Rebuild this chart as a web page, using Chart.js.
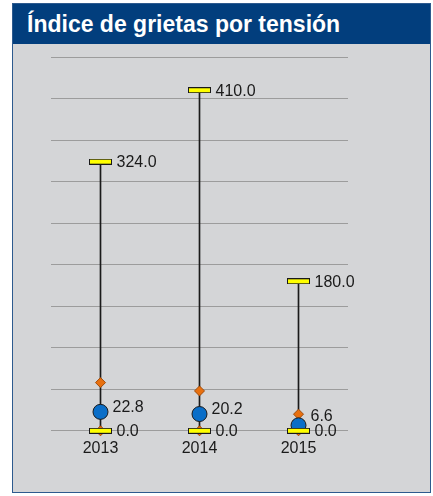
<!DOCTYPE html>
<html>
<head>
<meta charset="utf-8">
<script src="https://cdn.jsdelivr.net/npm/chart.js@4"></script>
<style>
  html, body { margin: 0; padding: 0; background: #ffffff; }
  #panel {
    position: absolute; left: 12px; top: 3px; width: 417px; height: 488px;
    border: 1px solid #2d5a8e; background: #d4d5d7;
  }
  #title {
    position: absolute; left: 0; top: 0; width: 417px; height: 40px;
    background: #023e7d; color: #ffffff;
    font: bold 23px "Liberation Sans", Arial, sans-serif;
    line-height: 40px; padding-left: 14px; box-sizing: border-box;
  }
  #wrap { position: absolute; left: 0; top: 0; width: 433px; height: 496px; }
</style>
</head>
<body>
<div id="panel"><div id="title">Índice de grietas por tensión</div></div>
<div id="wrap"><canvas id="chart" width="433" height="496"></canvas></div>
<script>
const years = ['2013', '2014', '2015'];
const maxValues = [324.0, 410.0, 180.0];
const minValues = [0.0, 0.0, 0.0];
const meanValues = [22.8, 20.2, 6.6];
const upperValues = [58, 48, 20];
const lowerValues = [0, 0, 0];

const labelFont = '16px "Liberation Sans", Arial, sans-serif';

function makeBarMarker() {
    const c = document.createElement('canvas');
    c.width = 23;
    c.height = 6;
    const ctx = c.getContext('2d');
    ctx.fillStyle = '#ffff00';
    ctx.fillRect(0.5, 0.5, 22, 5);
    ctx.strokeStyle = '#1a1a1a';
    ctx.lineWidth = 1;
    ctx.strokeRect(0.5, 0.5, 22, 5);
    return c;
}
const barMarker = makeBarMarker();

// value labels drawn beside the markers
const valueLabels = {
    id: 'valueLabels',
    afterDatasetsDraw(chart) {
        const ctx = chart.ctx;
        ctx.save();
        ctx.font = labelFont;
        ctx.fillStyle = '#1a1a1a';
        ctx.textBaseline = 'middle';
        ctx.textAlign = 'left';
        const maxMeta = chart.getDatasetMeta(0);
        const minMeta = chart.getDatasetMeta(1);
        const meanMeta = chart.getDatasetMeta(2);
        years.forEach((y, i) => {
            const pMax = maxMeta.data[i];
            ctx.fillText(maxValues[i].toFixed(1), pMax.x + 16, pMax.y + 1);
            const pMin = minMeta.data[i];
            ctx.fillText(minValues[i].toFixed(1), pMin.x + 16, pMin.y + 1);
            const pMean = meanMeta.data[i];
            let ly = pMean.y - 4;
            if (pMin.y - ly < 14) ly = pMin.y - 14;
            ctx.fillText(meanValues[i].toFixed(1), pMean.x + 12, ly);
        });
        ctx.restore();
    }
};

new Chart(document.getElementById('chart').getContext('2d'), {
    data: {
        labels: years,
        datasets: [
            {
                type: 'line',
                label: 'Máximo',
                data: maxValues,
                showLine: false,
                clip: false,
                pointStyle: barMarker,
                pointRadius: 11,
            },
            {
                type: 'line',
                label: 'Mínimo',
                data: minValues,
                showLine: false,
                clip: false,
                pointStyle: barMarker,
                pointRadius: 11,
            },
            {
                type: 'line',
                label: 'Media',
                data: meanValues,
                showLine: false,
                clip: false,
                pointStyle: 'circle',
                pointRadius: 7.5,
                backgroundColor: '#0a6ec8',
                borderColor: '#1a1a1a',
                borderWidth: 1,
            },
            {
                type: 'line',
                label: 'Superior',
                data: upperValues,
                showLine: false,
                clip: false,
                pointStyle: 'rectRot',
                pointRadius: 5,
                backgroundColor: '#e8700f',
                borderColor: '#a04a08',
                borderWidth: 1,
            },
            {
                type: 'line',
                label: 'Inferior',
                data: lowerValues,
                showLine: false,
                clip: false,
                pointStyle: 'rectRot',
                pointRadius: 5,
                backgroundColor: '#e8700f',
                borderColor: '#a04a08',
                borderWidth: 1,
            },
            {
                type: 'bar',
                label: 'Rango',
                data: years.map((y, i) => [minValues[i], maxValues[i]]),
                backgroundColor: '#1a1a1a',
                barThickness: 1,
                borderSkipped: false,
            },
        ],
    },
    options: {
        responsive: false,
        animation: false,
        layout: { padding: { left: 51, right: 85, top: 57, bottom: 30 } },
        plugins: {
            legend: { display: false },
            tooltip: { enabled: false },
        },
        scales: {
            x: {
                grid: { display: false, drawTicks: false },
                border: { display: false },
                ticks: {
                    color: '#1a1a1a',
                    font: { family: '"Liberation Sans", Arial, sans-serif', size: 16 },
                    padding: 8,
                },
            },
            y: {
                min: 0,
                max: 450,
                grid: { color: '#9c9c9c', drawTicks: false, lineWidth: 1 },
                border: { display: false },
                ticks: { display: false, stepSize: 50 },
            },
        },
    },
    plugins: [valueLabels],
});
</script>
</body>
</html>
